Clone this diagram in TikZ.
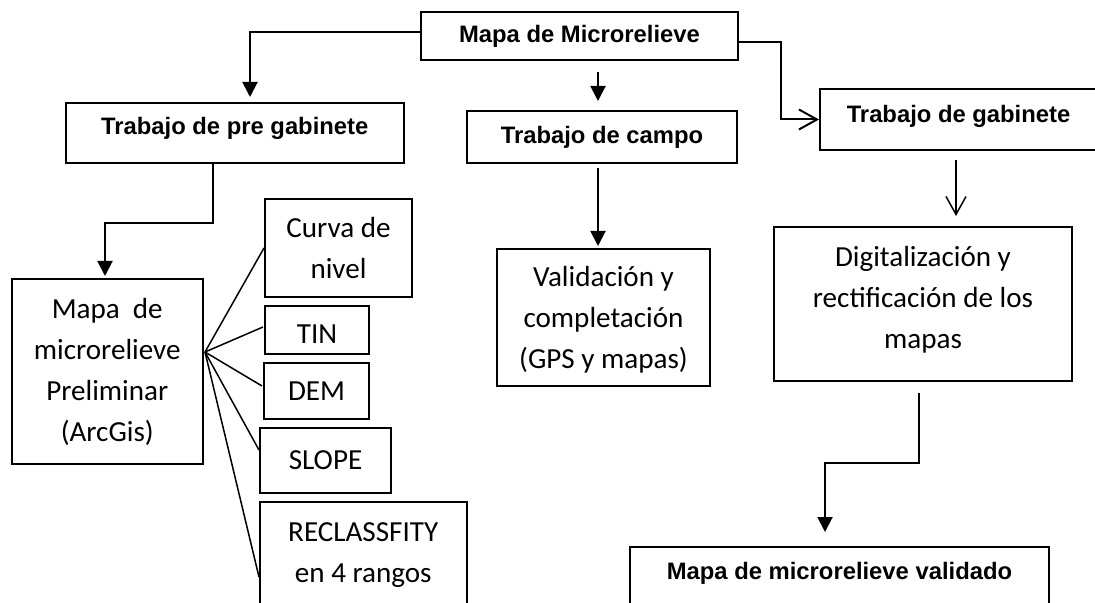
\documentclass[tikz,border=0pt]{standalone}
\usepackage{fontspec}
\setmainfont{Carlito}
\newfontfamily\arialfont{Liberation Sans}
\usetikzlibrary{calc,arrows.meta}
\tikzstyle{titulo}=[rectangle,draw=black,line width=1pt,inner sep=0pt,font=\arialfont\bfseries\fontsize{11.9}{14}\selectfont,text height=8.5pt,text depth=0pt]
\tikzstyle{caja}=[rectangle,draw=black,line width=1pt,inner sep=0pt,align=center,font=\fontsize{14.55}{20.5}\selectfont]
\tikzstyle{flecha}=[line width=1pt,-{Triangle[length=7.5pt,width=7.5pt]}]
\tikzstyle{abierta}=[-{Straight Barb[length=9pt,width=10pt]}]
\tikzstyle{rama}=[line width=0.75pt]

\begin{document}
\begin{tikzpicture}[x=0.5pt,y=-0.5pt]
		\useasboundingbox (0,0) rectangle (1095,603);
		\clip (0,0) rectangle (1095,603);
		\node [titulo,minimum width=158.5pt,minimum height=24pt,text depth=2pt] (mapa) at (579.5,36) {Mapa de Microrelieve};
		\node [titulo,minimum width=169.25pt,minimum height=30pt,text depth=6.5pt] (pre) at (234.75,133) {Trabajo de pre gabinete};
		\node [titulo,minimum width=135pt,minimum height=26pt,text depth=1.5pt] (campo) at (602,137) {Trabajo de campo};
		\node [titulo,minimum width=138.5pt,minimum height=30.5pt,text depth=5.5pt] (gab) at (958.5,119.5) {Trabajo de gabinete};
		\node [caja,minimum width=95.75pt,minimum height=92.5pt] (prel) at (107.25,371.5) {Mapa\ \ de\\microrelieve\\Preliminar\\(ArcGis)};
		\node [caja,minimum width=73.5pt,minimum height=49pt] (curva) at (338.5,248) {Curva de\\nivel};
		\node [caja,minimum width=52pt,minimum height=24pt,text height=13.4pt] (tin) at (317,330) {TIN};
		\node [caja,minimum width=52.5pt,minimum height=28pt] (dem) at (316.5,391) {DEM};
		\node [caja,minimum width=65.5pt,minimum height=32.5pt] (slope) at (325.5,460.5) {SLOPE};
		\node [caja,minimum width=103.25pt,minimum height=53pt] (recl) at (363.25,555) {RECLASSFITY\\en 4 rangos};
		\node [caja,minimum width=106.5pt,minimum height=68.5pt,text depth=0pt] (valid) at (603.5,317.5) {Validación y\\completación\\(GPS y mapas)};
		\node [caja,minimum width=149pt,minimum height=77pt,text depth=7pt] (digit) at (923,304) {Digitalización y\\rectificación de los\\mapas};
		\node [titulo,anchor=north,minimum width=209.5pt,minimum height=40pt,text depth=16.3pt] (final) at (839.5,546) {Mapa de microrelieve validado};

		\draw [flecha,shorten >=2.5pt] ($(mapa.west)+(0,-3.5)$) -| ($(pre.north)+(15.25,0)$);
		\coordinate (m1) at ($(mapa.south)+(18.5,0)$);
		\draw [flecha,shorten <=5.5pt,shorten >=4.5pt] (m1) -- (m1 |- campo.north);
		\draw [abierta,line width=1pt] ($(mapa.east)+(0,5.7)$) -- ++(42,0) |- (gab.west);
		\draw [flecha,shorten >=1pt] ($(pre.south)+(-21.75,0)$) -- ++(0,59) -| ($(prel.north)+(-2.25,0)$);
		\coordinate (c1) at ($(campo.south)+(-4,0)$);
		\draw [flecha,shorten <=2pt,shorten >=1pt] (c1) -- (c1 |- valid.north);
		\coordinate (g1) at ($(gab.south)+(-2.5,0)$);
		\draw [abierta,line width=0.75pt,shorten <=4.5pt,shorten >=5pt] (g1) -- (g1 |- digit.north);
		\draw [flecha,shorten <=5.5pt,shorten >=7pt] ($(digit.south)+(-4.5,0)$) -- ++(0,81) -| ($(final.north)+(-14.5,0)$);

		\coordinate (abanico) at ($(prel.east)+(1,-19.5)$);
		\draw [rama] (abanico) -- (curva.west);
		\draw [rama] (abanico) -- ($(tin.west)+(-1,-3)$);
		\draw [rama] (abanico) -- ($(dem.west)+(-1,-5)$);
		\draw [rama] (abanico) -- ($(slope.west)+(0,-10.5)$);
		\draw [rama] (abanico) -- ($(recl.west)+(0,22)$);
\end{tikzpicture}
\end{document}
